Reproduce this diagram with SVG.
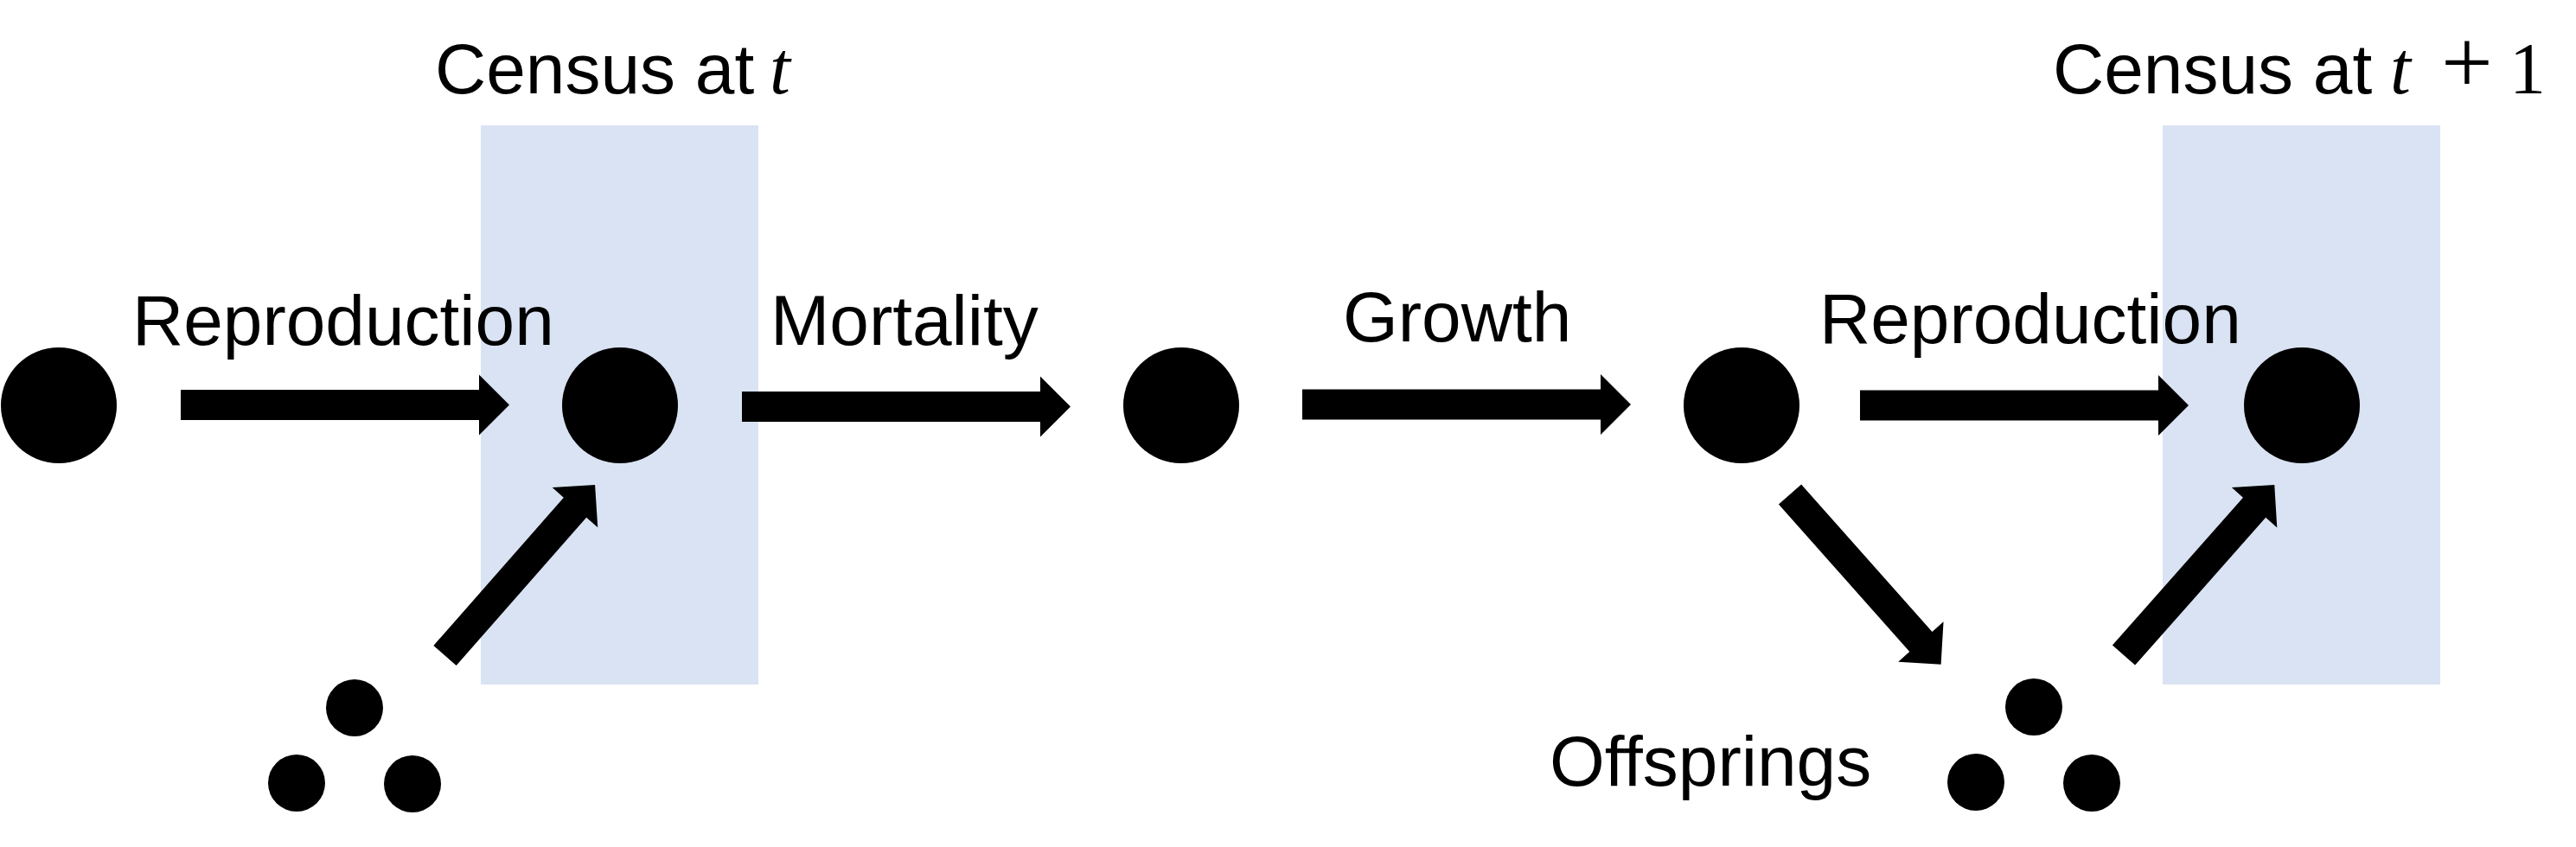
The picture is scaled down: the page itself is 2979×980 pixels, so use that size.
<svg xmlns="http://www.w3.org/2000/svg" width="2979" height="980" viewBox="0 0 2979 980">
<style>
.bg{fill:#ffffff}
.census{fill:#DAE3F3}
.dot{fill:#000000}
.arr{fill:#000000}
.lbl{font-family:"Liberation Sans",Arial,sans-serif;font-size:82px;fill:#000000}
.math{font-family:"Liberation Serif","Times New Roman",serif;font-style:italic;font-size:86px}
.plus{font-family:"Liberation Serif","Times New Roman",serif;font-style:normal;font-size:106px}
.one{font-family:"Liberation Serif","Times New Roman",serif;font-style:normal;font-size:84px}
</style>
<defs>
<polygon id="harrow" points="0,-17.5 345,-17.5 345,-35 380,0 345,35 345,17.5 0,17.5"/>
<polygon id="darrow" points="0,-17.5 228,-17.5 228,-35 263,0 228,35 228,17.5 0,17.5"/>
</defs>
<rect class="bg" x="0" y="0" width="2979" height="980"/>
<g id="census-t">
<rect class="census" x="556" y="145" width="321" height="647"/>
<text class="lbl" x="503" y="108">Census at<tspan class="math" x="890">t</tspan></text>
</g>
<g id="census-t1">
<rect class="census" x="2501" y="145" width="321" height="647"/>
<text class="lbl" x="2374" y="108">Census at<tspan class="math" x="2764">t</tspan><tspan class="plus" x="2823">+</tspan><tspan class="one" x="2902">1</tspan></text>
</g>
<g id="connectors">
<use href="#harrow" class="arr" transform="translate(209,468.5)"/>
<use href="#harrow" class="arr" transform="translate(858,470.5)"/>
<use href="#harrow" class="arr" transform="translate(1506,468)"/>
<use href="#harrow" class="arr" transform="translate(2151,469)"/>
<use href="#darrow" class="arr" transform="translate(514.5,758.5) rotate(-48.7)"/>
<use href="#darrow" class="arr" transform="translate(2070,572) rotate(48.4)"/>
<use href="#darrow" class="arr" transform="translate(2456,758) rotate(-48.5)"/>
<text class="lbl" x="153" y="399">Reproduction</text>
<text class="lbl" x="891" y="399">Mortality</text>
<text class="lbl" x="1553" y="395">Growth</text>
<text class="lbl" x="2104" y="397">Reproduction</text>
</g>
<g id="n1"><circle class="dot" cx="68" cy="469" r="67"/></g>
<g id="n2"><circle class="dot" cx="717" cy="469" r="67"/></g>
<g id="n3"><circle class="dot" cx="1366" cy="469" r="67"/></g>
<g id="n4"><circle class="dot" cx="2014" cy="469" r="67"/></g>
<g id="n5"><circle class="dot" cx="2662" cy="469" r="67"/></g>
<g id="offspring1">
<circle class="dot" cx="410" cy="819" r="33"/>
<circle class="dot" cx="343" cy="906" r="33"/>
<circle class="dot" cx="477" cy="907" r="33"/>
</g>
<g id="offspring2">
<circle class="dot" cx="2352" cy="818" r="33"/>
<circle class="dot" cx="2285" cy="905" r="33"/>
<circle class="dot" cx="2419" cy="906" r="33"/>
<text class="lbl" x="1792" y="909">Offsprings</text>
</g>
</svg>
